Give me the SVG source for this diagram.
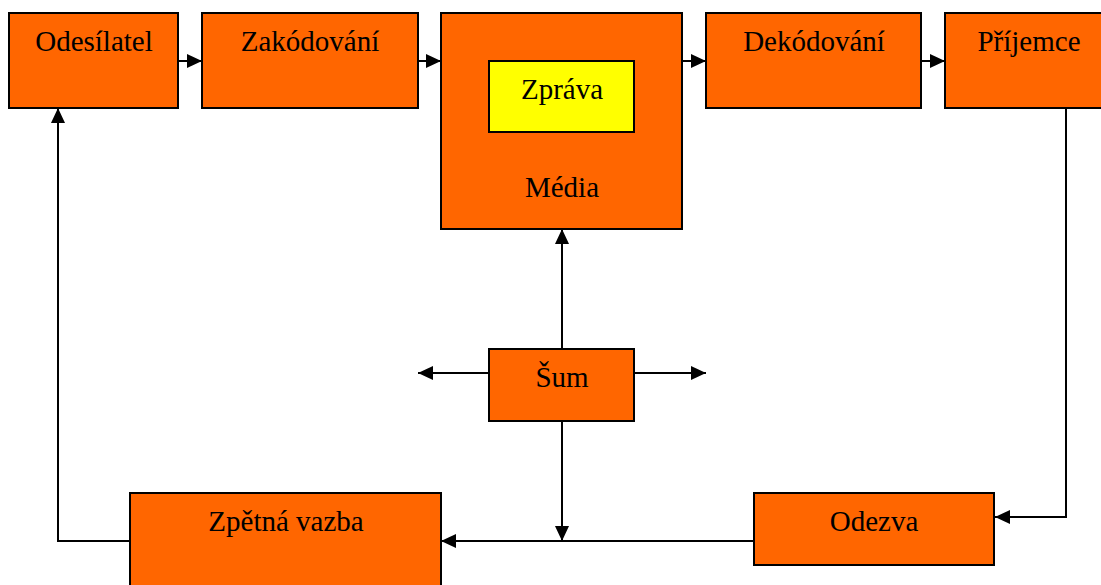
<svg xmlns="http://www.w3.org/2000/svg" width="1101" height="585" viewBox="0 0 1101 585">
<style>
.box{fill:#FF6600;stroke:#000;stroke-width:2}
.msg{fill:#FFFF00;stroke:#000;stroke-width:2}
.lbl{font-family:"Liberation Serif","Times New Roman",serif;font-size:29px;fill:#000;text-anchor:middle}
.con{fill:none;stroke:#000;stroke-width:2;marker-end:url(#ah)}
</style>
<defs>
<marker id="ah" markerUnits="userSpaceOnUse" markerWidth="15" markerHeight="14" refX="15" refY="7" orient="auto">
<path d="M0,0 L15,7 L0,14 z" fill="#000"/>
</marker>
</defs>
<rect width="1101" height="585" fill="#fff"/>
<g id="connectors">
<line class="con" x1="178" y1="61" x2="202" y2="61"/>
<line class="con" x1="418" y1="61" x2="441" y2="61"/>
<line class="con" x1="682" y1="61" x2="706" y2="61"/>
<line class="con" x1="921" y1="61" x2="945" y2="61"/>
<polyline class="con" points="1066,108 1066,517 995,517"/>
<line class="con" x1="754" y1="541" x2="441" y2="541"/>
<polyline class="con" points="130,541 58,541 58,108"/>
<line class="con" x1="562" y1="348" x2="562" y2="229"/>
<line class="con" x1="489" y1="373" x2="418" y2="373"/>
<line class="con" x1="634" y1="373" x2="706" y2="373"/>
<line class="con" x1="562" y1="421" x2="562" y2="541"/>
</g>
<g id="odesilatel"><rect class="box" x="9" y="13" width="169" height="95"/><text class="lbl" x="94" y="51">Odesílatel</text></g>
<g id="zakodovani"><rect class="box" x="202" y="13" width="216" height="95"/><text class="lbl" x="310" y="51">Zakódování</text></g>
<g id="media"><rect class="box" x="441" y="13" width="241" height="216"/><text class="lbl" x="562" y="197">Média</text></g>
<g id="zprava"><rect class="msg" x="489" y="61" width="145" height="71"/><text class="lbl" x="562" y="99">Zpráva</text></g>
<g id="dekodovani"><rect class="box" x="706" y="13" width="215" height="95"/><text class="lbl" x="814" y="51">Dekódování</text></g>
<g id="prijemce"><rect class="box" x="945" y="13" width="170" height="95"/><text class="lbl" x="1029" y="51">Příjemce</text></g>
<g id="sum"><rect class="box" x="489" y="349" width="145" height="72"/><text class="lbl" x="562" y="387">Šum</text></g>
<g id="zpetna-vazba"><rect class="box" x="130" y="493" width="311" height="110"/><text class="lbl" x="286" y="531">Zpětná vazba</text></g>
<g id="odezva"><rect class="box" x="754" y="493" width="240" height="72"/><text class="lbl" x="874" y="531">Odezva</text></g>
</svg>
